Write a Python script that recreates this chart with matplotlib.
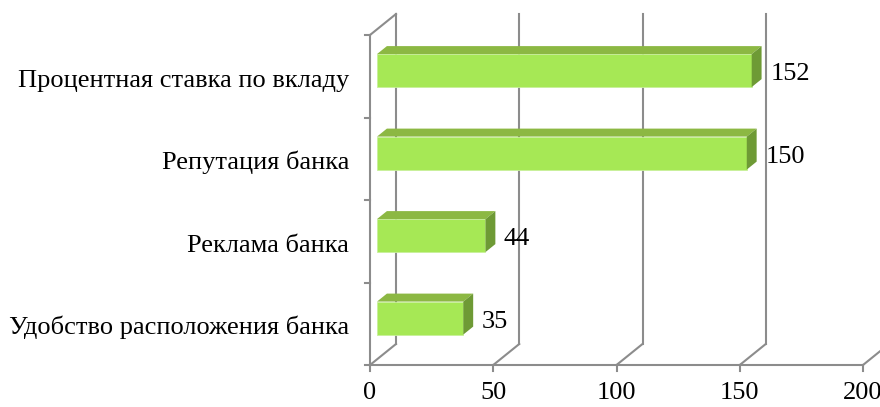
import matplotlib.pyplot as plt
from matplotlib.patches import Polygon

categories = ['Удобство расположения банка', 'Реклама банка',
              'Репутация банка', 'Процентная ставка по вкладу']
values = [35, 44, 150, 152]
xticks = [0, 50, 100, 150, 200]

plt.rcParams['font.family'] = ['Liberation Serif', 'DejaVu Serif']
FS = 19

W, H = 880, 407
fig = plt.figure(figsize=(W / 100, H / 100), dpi=100)
# front plane of the 3d box: x 0..200 -> px 370..863, y 0..4 -> px 365..35
ax = fig.add_axes([370 / W, (H - 365) / H, (863 - 370) / W, 330 / H])
ax.set_xlim(0, 200)
ax.set_ylim(0, 4)
ax.axis('off')

# depth offset of the back wall, in data units
DX = 26 / 2.465
DY = 21 / 82.5
grid_c = '#8c8c8c'
lw = 1.5

# back wall gridlines and floor diagonals
for v in xticks:
    ax.plot([v + DX, v + DX], [DY, 4 + DY], color=grid_c, lw=lw, clip_on=False)
    ax.plot([v, v + DX], [0, DY], color=grid_c, lw=lw, clip_on=False)
# left wall top edge
ax.plot([0, DX], [4, 4 + DY], color=grid_c, lw=lw, clip_on=False)
# front axes
ax.plot([0, 0], [0, 4], color=grid_c, lw=lw, clip_on=False)
ax.plot([0, 200], [0, 0], color=grid_c, lw=lw, clip_on=False)
for i in range(5):
    ax.plot([-2.2, 0], [i, i], color=grid_c, lw=lw, clip_on=False)
for v in xticks:
    ax.plot([v, v], [0, -0.07], color=grid_c, lw=lw, clip_on=False)
    ax.text(v, -0.475, str(v), ha='center', va='bottom', fontsize=FS, clip_on=False)

# bars
d0, d1 = 0.27, 0.65
half = 0.2
face_c, top_c, side_c = '#a6e855', '#8cb843', '#6e9a35'
for i, (cat, v) in enumerate(zip(categories, values)):
    x0 = d0 * DX
    x1 = d1 * DX
    yb = i + 0.5 - half + d0 * DY
    yt = i + 0.5 + half + d0 * DY
    sh = (d1 - d0) * DY
    ax.add_patch(Polygon([(x0, yb), (v + x0, yb), (v + x0, yt), (x0, yt)],
                         facecolor=face_c, edgecolor='#c8f09a', lw=0.6, zorder=3))
    ax.add_patch(Polygon([(x0, yt), (v + x0, yt), (v + x1, yt + sh), (x1, yt + sh)],
                         facecolor=top_c, edgecolor='none', zorder=3))
    ax.add_patch(Polygon([(v + x0, yb), (v + x0, yt), (v + x1, yt + sh), (v + x1, yb + sh)],
                         facecolor=side_c, edgecolor='none', zorder=3))
    ax.text(v + x1 + 3.5, i + 0.5 + d0 * DY - 0.12, str(v), ha='left', va='baseline',
            fontsize=FS, zorder=4)
    ax.text(-8.5, i + 0.5 - 0.13, cat, ha='right', va='baseline', fontsize=FS, clip_on=False)

fig.savefig('out.png', dpi=100)
